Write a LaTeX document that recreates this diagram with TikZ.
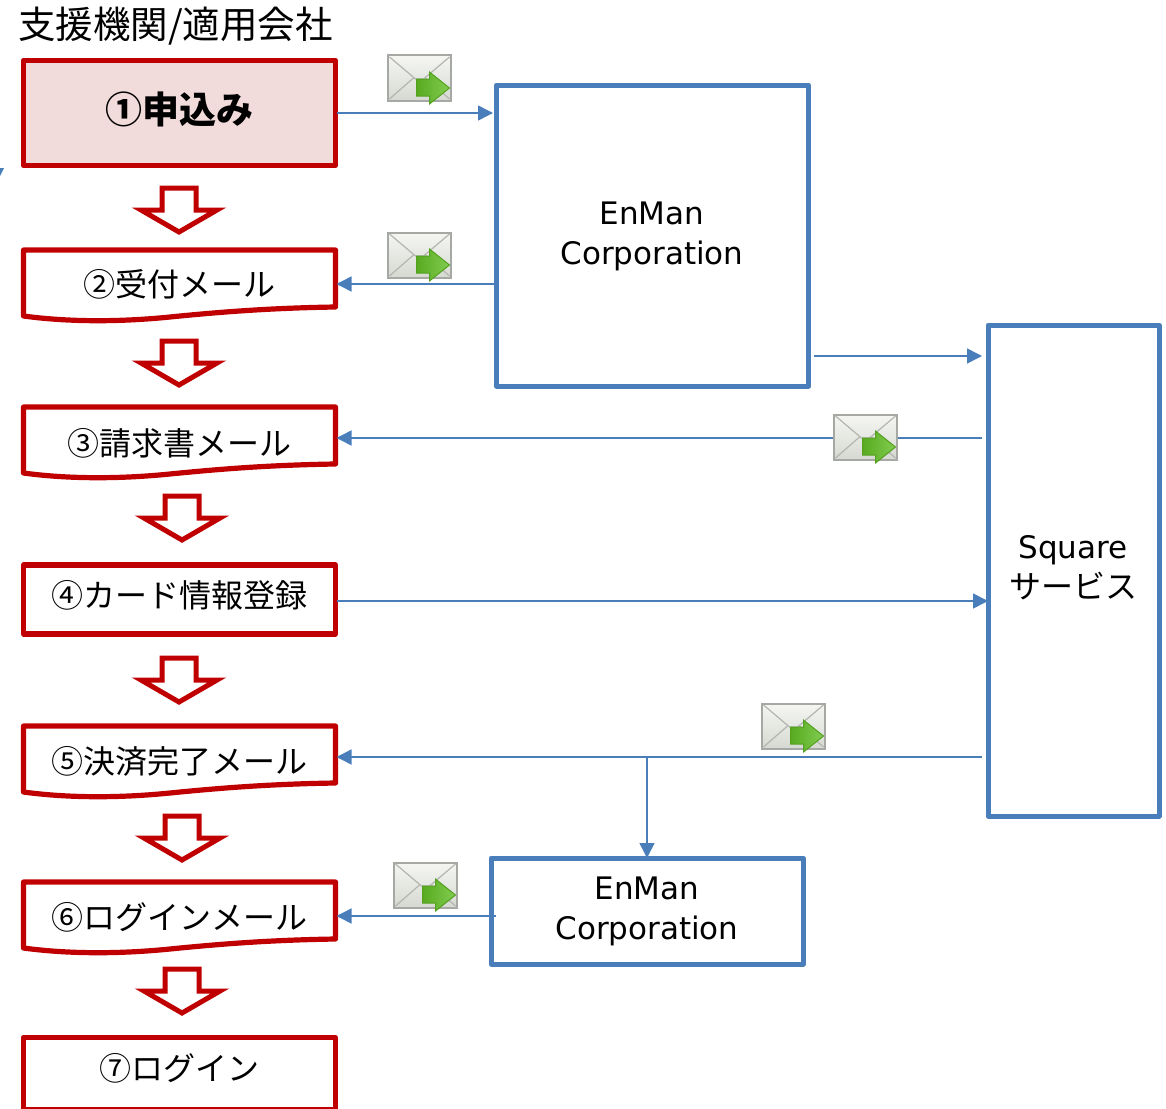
\documentclass[tikz,border=0pt]{standalone}
\usepackage{fontspec}
\setmainfont{DejaVu Sans}
\newfontfamily\jp{Noto Sans CJK JP}
\usetikzlibrary{arrows.meta}
\definecolor{redline}{HTML}{C00000}
\definecolor{pinkfill}{HTML}{F2DCDB}
\definecolor{blueline}{HTML}{4A7EBB}
\definecolor{envline}{HTML}{A6A8A3}
\definecolor{envlight}{HTML}{F5F6F3}
\definecolor{envdark}{HTML}{D6D9D1}
\definecolor{arrowgreen}{HTML}{62BE24}
\tikzset{
  redbox/.style={draw=redline,line width=5.2pt,line join=round,fill=white,inner sep=0pt,outer sep=0pt,minimum width=312pt,anchor=north west},
  waveanchor/.style={inner sep=0pt,outer sep=0pt,minimum width=312pt,minimum height=58pt,anchor=north west},
  bluebox/.style={draw=blueline,line width=5pt,inner sep=0pt,outer sep=0pt,anchor=north west,line join=round},
  conn/.style={draw=blueline,line width=1.5pt,-{Triangle[length=15pt,width=15pt]}},
  boxtext/.style={font=\jp\fontsize{32}{32}\selectfont,inner sep=0pt},
  bluetext/.style={font=\fontsize{31}{40}\selectfont,align=center,inner sep=0pt},
  downarrow/.pic={
    \draw[draw=redline,fill=white,line width=5pt,miter limit=10]
      (-17,2)--(17,2)--(17,24)--(38,24)--(0,46)--(-38,24)--(-17,24)--cycle;
  },
  envelope/.pic={
    \draw[draw=envline,line width=2pt,top color=envlight,bottom color=envdark]
      (0.5,0.5) rectangle (63.5,45.5);
    \draw[draw=envline!85!white,line width=1.2pt] (2,2)--(28,24)--(36,24)--(62,2);
    \draw[draw=envline!85!white,line width=1.2pt] (2,44)--(26,23);
    \draw[draw=envline!85!white,line width=1.2pt] (62,44)--(38,23);
    \draw[draw=arrowgreen!85!black,line width=1pt,left color=arrowgreen!90!black,right color=arrowgreen!80!white]
      (29,24)--(42,24)--(42,17)--(62,33)--(42,49)--(42,41)--(29,41)--cycle;
  }
}
\newcommand{\wavebottom}[1]{%
  \draw[draw=redline,line width=5.2pt,line join=round,fill=white]
    (23.5,#1+2) -- (335.5,#1+2) -- (335.5,#1+59)
    .. controls (270,#1+60) and (220,#1+64) .. (170,#1+69)
    .. controls (110,#1+75) and (60,#1+73) .. (23.5,#1+68) -- cycle;}
\begin{document}
\begin{tikzpicture}[x=1pt,y=-1pt]
\useasboundingbox (0,0) rectangle (1166,1108);
\clip (0,0) rectangle (1166,1108);

\node[inner sep=0pt,anchor=west,font=\jp\fontsize{37.5}{37.5}\selectfont] (title) at (18,26) {支援機関/適用会社};

% main boxes
\node[redbox,fill=pinkfill,minimum height=105pt] (b1) at (23.5,60.5) {};
\wavebottom{248}
\node[waveanchor] (b2) at (23.5,250) {};
\wavebottom{405}
\node[waveanchor] (b3) at (23.5,407) {};
\node[redbox,minimum height=69pt] (b4) at (23.5,565) {};
\wavebottom{724}
\node[waveanchor] (b5) at (23.5,726) {};
\wavebottom{880}
\node[waveanchor] (b6) at (23.5,882) {};
\node[redbox,minimum height=72pt] (b7) at (23.5,1037.5) {};

% box texts
\node[inner sep=0pt,font=\jp\bfseries\fontsize{37}{37}\selectfont] (t1) at (179.5,109) {①申込み};
\node[boxtext] (t2) at (179.5,284) {②受付メール};
\node[boxtext] (t3) at (179.5,443) {③請求書メール};
\node[boxtext] (t4) at (179.5,595) {④カード情報登録};
\node[boxtext] (t5) at (179.5,761) {⑤決済完了メール};
\node[boxtext] (t6) at (179.5,917) {⑥ログインメール};
\node[boxtext] (t7) at (179.5,1068) {⑦ログイン};

% blue boxes
\node[bluebox,minimum width=312pt,minimum height=301pt] (e1) at (496.5,85) {};
\node[bluetext] (e1t) at (652,236) {EnMan\\Corporation};
\node[bluebox,minimum width=171pt,minimum height=491pt] (s) at (988,325) {};
\node[bluetext] (st) at (1073,568) {Square\\{\jp\fontsize{32}{40}\selectfont サービス}};
\node[bluebox,minimum width=312pt,minimum height=106pt] (e2) at (491,858) {};
\node[bluetext] (e2t) at (647,911) {EnMan\\Corporation};

% connectors
\coordinate (c1) at (337,113);
\coordinate (c2) at (496,284);
\coordinate (c3a) at (814,356);
\coordinate (c3b) at (982,356);
\coordinate (c4) at (982,438);
\coordinate (c5) at (337,601);
\coordinate (c6) at (982,757);
\coordinate (c7) at (647,757);
\coordinate (c8) at (496,916);
\draw[conn,shorten >=3.5pt] (c1) -- (c1 -| e1.west);
\draw[conn,shorten >=1pt] (c2) -- (c2 -| b2.east);
\draw[conn] (c3a) -- (c3b);
\draw[conn,shorten >=1pt] (c4) -- (c4 -| b3.east);
\draw[conn] (c5) -- (c5 -| s.west);
\draw[conn,shorten >=1pt] (c6) -- (c6 -| b5.east);
\draw[conn] (c7) -- (e2.north);
\draw[conn,shorten >=1pt] (c8) -- (c8 -| b6.east);

% down arrows
\pic at (179,186) {downarrow};
\pic at (179,339) {downarrow};
\pic at (182,494) {downarrow};
\pic at (179,656) {downarrow};
\pic at (182,814) {downarrow};
\pic at (182,967) {downarrow};

% envelopes
\pic at (387.5,55) {envelope};
\pic at (387.5,232) {envelope};
\pic at (833.5,414) {envelope};
\pic at (761.5,703) {envelope};
\pic at (393.5,862) {envelope};

% cut-off arrowhead at the left edge
\fill[blueline] (0,168) -- (4,168) -- (0,176) -- cycle;
\end{tikzpicture}
\end{document}
